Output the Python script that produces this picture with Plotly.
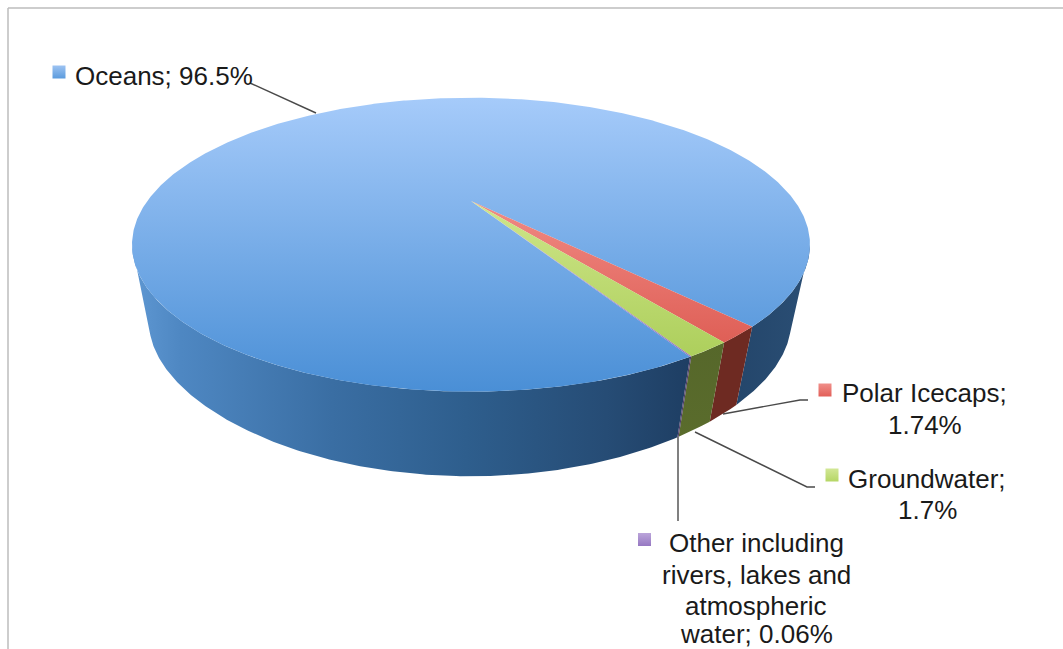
import math
import plotly.graph_objects as go

# ---- data ----
categories = ["Polar Icecaps", "Groundwater", "Other including rivers, lakes and atmospheric water", "Oceans"]
values = [1.74, 1.7, 0.06, 96.5]
value_labels = ["1.74%", "1.7%", "0.06%", "96.5%"]

# ---- pie projection (perspective disc) ----
W, H = 1063, 649
CX, CY = 471.0, 201.0
A, B, K = 323.7, 134.0, 0.297
RX, CX2 = 0.947, 470.0
B2, K2, CY2 = 123.0, 0.37, 281.0
START = -47.2
LEFT_T, RIGHT_T = -162.7, -17.3
LEFT_B, RIGHT_B = -158.3, -21.7


def top_pt(t):
    r = math.radians(t)
    w = 1 + K * math.sin(r)
    return CX + A * math.cos(r) / w, CY - B * math.sin(r) / w


def bot_pt(t):
    x, _ = top_pt(t)
    r = math.radians(t)
    return CX2 + (x - CX) * RX, CY2 - B2 * math.sin(r) / (1 + K2 * math.sin(r))


def arc(fn, a, b, step=0.5):
    n = max(2, int(abs(b - a) / step) + 1)
    return [fn(a + (b - a) * i / (n - 1)) for i in range(n)]


total = sum(values)
spans = []
cur = START
for v in values:
    nxt = cur - v / total * 360
    spans.append((cur, nxt))
    cur = nxt

top_colors = [
    ["#F08A84", "#DD5B52"],
    ["#CFE68A", "#ADCF5C"],
    ["#B9A3D9", "#8F74BD"],
    ["#A6CBFA", "#4A8FD6"],
]
wall_colors = [
    ["#6E2A22", "#6E2A22"],
    ["#55662A", "#5A6C2C"],
    ["#4B3A66", "#4B3A66"],
]

fig = go.Figure()


def poly(pts, grad, start, stop, name):
    xs = [p[0] for p in pts] + [pts[0][0]]
    ys = [p[1] for p in pts] + [pts[0][1]]
    fig.add_trace(go.Scatter(
        x=xs, y=ys, mode="lines", fill="toself", name=name,
        line=dict(width=0), hoverinfo="skip", showlegend=False,
        fillcolor=grad["scale"][0][1],
        fillgradient=dict(type=grad["type"], colorscale=grad["scale"], start=start, stop=stop),
    ))


ocean_a, ocean_b = spans[3]
poly(arc(top_pt, LEFT_T, spans[2][1]) + arc(bot_pt, spans[2][1], LEFT_B),
     dict(type="horizontal", scale=[[0, "#5F98D3"], [0.09, "#4E87C2"], [0.36, "#3A6EA3"],
                                    [0.6, "#2E5E8D"], [0.85, "#264C75"], [1, "#1E3E63"]]),
     131, 690, categories[3] + " wall")
poly(arc(top_pt, START, RIGHT_T) + arc(bot_pt, RIGHT_B, START),
     dict(type="horizontal", scale=[[0, "#24466B"], [1, "#2A4E74"]]),
     736, 809, categories[3] + " wall")

for i in range(3):
    a, b = spans[i]
    poly(arc(top_pt, a, b) + arc(bot_pt, b, a),
         dict(type="vertical", scale=[[0, wall_colors[i][0]], [1, wall_colors[i][1]]]),
         320, 440, categories[i] + " wall")

poly([(CX, CY)] + arc(top_pt, ocean_a, ocean_b),
     dict(type="vertical", scale=[[0, top_colors[3][0]], [1, top_colors[3][1]]]),
     97, 391, categories[3])
for i in range(3):
    a, b = spans[i]
    poly([(CX, CY)] + arc(top_pt, a, b, 0.1),
         dict(type="vertical", scale=[[0, top_colors[i][0]], [1, top_colors[i][1]]]),
         201, 356, categories[i])

leaders = [
    ([250, 316], [83, 113]),
    ([723, 800, 808], [414, 400, 400]),
    ([695, 807, 815], [432, 487, 487]),
    ([678, 678], [437, 521]),
]
for lx, ly in leaders:
    fig.add_trace(go.Scatter(x=lx, y=ly, mode="lines", line=dict(color="#4A4A4A", width=1.4),
                             hoverinfo="skip", showlegend=False))

key_x = [59, 825, 832, 644.5]
key_y = [72, 390, 475, 539.5]
key_colors = [("#9DC3F2", "#5B9BDD"), ("#F08F8A", "#E25F58"), ("#D2E796", "#B5D665"), ("#BBA5DA", "#9678C2")]
for kx, ky, (c1, c2) in zip(key_x, key_y, key_colors):
    fig.add_trace(go.Scatter(
        x=[kx], y=[ky], mode="markers", hoverinfo="skip", showlegend=False,
        marker=dict(symbol="square", size=13, color=c1, line=dict(width=0),
                    gradient=dict(type="vertical", color=c2)),
    ))

label_lines = [
    ("Oceans; " + value_labels[3], 164, 76),
    ("Polar Icecaps;", 924.5, 393),
    (value_labels[0], 924.5, 425),
    ("Groundwater;", 927, 479),
    (value_labels[1], 927, 510),
    ("Other including", 756, 543),
    ("rivers, lakes and", 756, 575),
    ("atmospheric", 756, 606),
    ("water; " + value_labels[2], 756, 634),
]
annotations = [
    dict(x=x, y=y, text=t, showarrow=False, xanchor="center", yanchor="middle",
         font=dict(family="Liberation Sans, Arial, sans-serif", size=26, color="#1a1a1a"))
    for t, x, y in label_lines
]

frame = [
    dict(type="line", x0=8, x1=W, y0=8, y1=8, line=dict(color="#BDBDBD", width=1.5)),
    dict(type="line", x0=8, x1=8, y0=8, y1=H, line=dict(color="#BDBDBD", width=1.5)),
]

fig.update_layout(
    width=W, height=H, margin=dict(l=0, r=0, t=0, b=0),
    paper_bgcolor="white", plot_bgcolor="white",
    xaxis=dict(range=[0, W], visible=False, fixedrange=True),
    yaxis=dict(range=[H, 0], visible=False, fixedrange=True),
    annotations=annotations, shapes=frame, showlegend=False,
)
fig.write_html("out.html", config=dict(displayModeBar=False),
               post_script="document.body.style.margin='0';document.documentElement.style.overflow='hidden';")
